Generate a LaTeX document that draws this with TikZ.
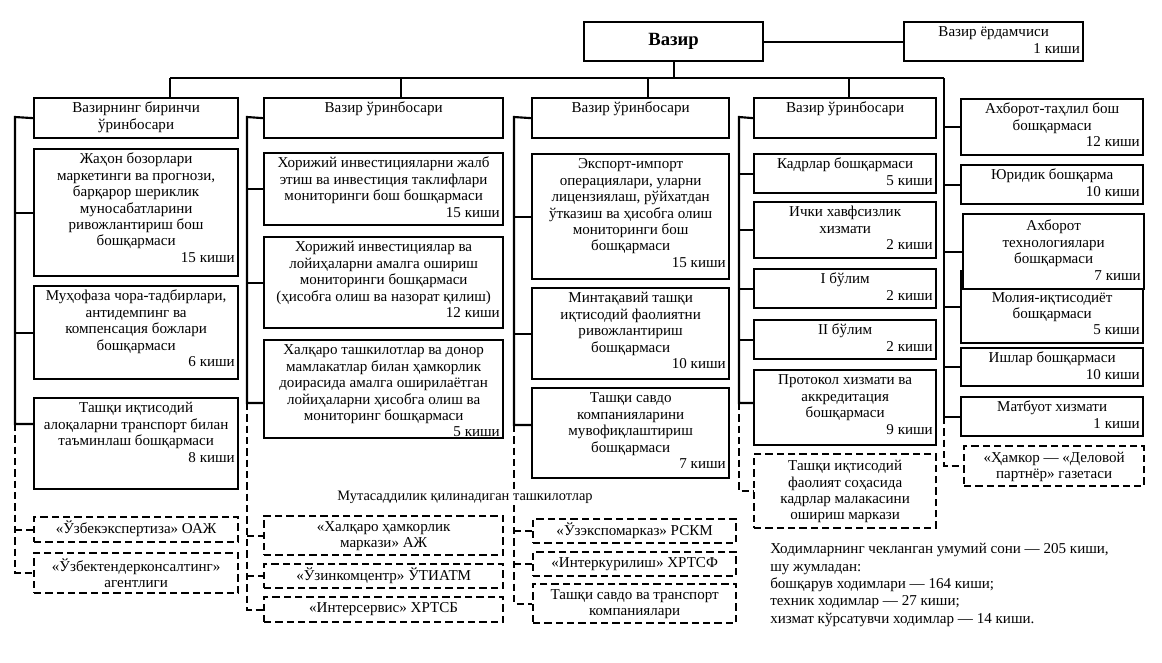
\documentclass[tikz,border=0pt]{standalone}
\usepackage{fontspec}
\setmainfont{Liberation Serif}
\usetikzlibrary{calc}
\newlength{\pxu}
\setlength{\pxu}{0.75pt}
\newcommand{\orgfont}{\fontsize{11.3}{12.3}\selectfont}
% box text: [inner position]{width px}{height px}{text}
\newcommand{\boxtext}[4][t]{\parbox[c][\dimexpr#3\pxu-5pt\relax][#1]{\dimexpr#2\pxu-5pt\relax}{\centering\strut#4}}
\newcommand{\staff}[1]{\\\hspace*{\fill}#1 киши\strut}

\begin{document}
\begin{tikzpicture}[x=0.75pt, y=-0.75pt,
    unit/.style={draw, line width=1.7pt, fill=white, anchor=north west, inner sep=2.5pt, font=\orgfont},
    dunit/.style={unit, dash pattern=on 5.5pt off 3pt},
    wire/.style={draw, line width=1.6pt},
    dwire/.style={draw, line width=1.6pt, dash pattern=on 5.5pt off 3pt}]
    \useasboundingbox (0,0) rectangle (1162,662);

    % Minister and assistant
    \node[unit, inner sep=0pt, minimum width={179*\pxu}, minimum height={39*\pxu}, font=\fontsize{14}{16}\selectfont\bfseries] (minister) at (583,21) {Вазир};
    \node[unit] (aide) at (903,21) {\boxtext{179}{39}{Вазир ёрдамчиси\staff{1}}};

    % Deputies
    \node[unit] (h1) at (33,97) {\boxtext{204}{40}{Вазирнинг биринчи\\ўринбосари}};
    \node[unit] (h2) at (263,97) {\boxtext{239}{40}{Вазир ўринбосари}};
    \node[unit] (h3) at (531,97) {\boxtext{197}{40}{Вазир ўринбосари}};
    \node[unit] (h4) at (753,97) {\boxtext{182}{40}{Вазир ўринбосари}};

    % Column 1
    \node[unit] (c11) at (33,148) {\boxtext{204}{127}{Жаҳон бозорлари\\маркетинги ва прогнози,\\барқарор шериклик\\муносабатларини\\ривожлантириш бош\\бошқармаси\staff{15}}};
    \node[unit] (c12) at (33,285) {\boxtext{204}{93}{Муҳофаза чора-тадбирлари,\\антидемпинг ва\\компенсация божлари\\бошқармаси\staff{6}}};
    \node[unit] (c13) at (33,397) {\boxtext{204}{91}{Ташқи иқтисодий\\алоқаларни транспорт билан\\таъминлаш бошқармаси\staff{8}}};
    \node[dunit] (d11) at (33,516) {\boxtext[c]{204}{25}{«Ўзбекэкспертиза» ОАЖ}};
    \node[dunit] (d12) at (33,552) {\boxtext[c]{204}{40}{«Ўзбектендерконсалтинг»\\агентлиги}};

    % Column 2
    \node[unit] (c21) at (263,152) {\boxtext{239}{72}{Хорижий инвестицияларни жалб\\этиш ва инвестиция таклифлари\\мониторинги бош бошқармаси\staff{15}}};
    \node[unit] (c22) at (263,236) {\boxtext{239}{91}{Хорижий инвестициялар ва\\лойиҳаларни амалга ошириш\\мониторинги бошқармаси\\(ҳисобга олиш ва назорат қилиш)\staff{12}}};
    \node[unit] (c23) at (263,339) {\boxtext{239}{98}{Халқаро ташкилотлар ва донор\\мамлакатлар билан ҳамкорлик\\доирасида амалга оширилаётган\\лойиҳаларни ҳисобга олиш ва\\мониторинг бошқармаси\staff{5}}};
    \node[dunit] (d21) at (263,515) {\boxtext[c]{239}{39}{«Халқаро ҳамкорлик\\маркази» АЖ}};
    \node[dunit] (d22) at (263,563) {\boxtext[c]{239}{24}{«Ўзинкомцентр» ЎТИАТМ}};
    \node[dunit] (d23) at (263,596) {\boxtext[c]{239}{25}{«Интерсервис» ХРТСБ}};

    % Column 3
    \node[unit] (c31) at (531,153) {\boxtext{197}{125}{Экспорт-импорт\\операциялари, уларни\\лицензиялаш, рўйхатдан\\ўтказиш ва ҳисобга олиш\\мониторинги бош\\бошқармаси\staff{15}}};
    \node[unit] (c32) at (531,287) {\boxtext{197}{91}{Минтақавий ташқи\\иқтисодий фаолиятни\\ривожлантириш\\бошқармаси\staff{10}}};
    \node[unit] (c33) at (531,387) {\boxtext{197}{90}{Ташқи савдо\\компанияларини\\мувофиқлаштириш\\бошқармаси\staff{7}}};
    \node[dunit] (d31) at (532,518) {\boxtext[c]{203}{24}{«Ўзэкспомарказ» РСКМ}};
    \node[dunit] (d32) at (532,551) {\boxtext[c]{203}{24}{«Интеркурилиш» ХРТСФ}};
    \node[dunit] (d33) at (532,583) {\boxtext[c]{203}{39}{Ташқи савдо ва транспорт\\компаниялари}};

    % Column 4
    \node[unit] (c41) at (753,153) {\boxtext{182}{39}{Кадрлар бошқармаси\staff{5}}};
    \node[unit] (c42) at (753,201) {\boxtext{182}{56}{Ички хавфсизлик\\хизмати\staff{2}}};
    \node[unit] (c43) at (753,268) {\boxtext{182}{39}{I бўлим\staff{2}}};
    \node[unit] (c44) at (753,319) {\boxtext{182}{39}{II бўлим\staff{2}}};
    \node[unit] (c45) at (753,369) {\boxtext{182}{75}{Протокол хизмати ва\\аккредитация\\бошқармаси\staff{9}}};
    \node[dunit] (d41) at (753,453) {\boxtext[c]{182}{74}{Ташқи иқтисодий\\фаолият соҳасида\\кадрлар малакасини\\ошириш маркази}};

    % Column 5
    \node[unit] (c51) at (960,98) {\boxtext{182}{56}{Ахборот-таҳлил бош\\бошқармаси\staff{12}}};
    \node[unit] (c52) at (960,164) {\boxtext{182}{39}{Юридик бошқарма\staff{10}}};
    \node[unit] (c54) at (960,270) {\boxtext[b]{182}{67}{Молия-иқтисодиёт\\бошқармаси\staff{5}}};
    \node[unit] (c53) at (962,213) {\boxtext{181}{75}{\rule{0pt}{10pt}Ахборот\\технологиялари\\бошқармаси\staff{7}}};
    \node[unit] (c55) at (960,347) {\boxtext{182}{38}{Ишлар бошқармаси\staff{10}}};
    \node[unit] (c56) at (960,396) {\boxtext{182}{39}{Матбуот хизмати\staff{1}}};
    \node[dunit] (d51) at (963,445) {\boxtext[c]{180}{40}{«Ҳамкор — «Деловой\\партнёр» газетаси}};

    % Bus lines
    \coordinate (busL) at (170,78);
    \coordinate (busR) at (944,78);
    \draw[wire] (minister) -- (aide);
    \draw[wire] (minister.south) -- (minister.south |- busL);
    \draw[wire] (busL) -- (busR);
    \foreach \h/\x in {h1/170, h2/401, h3/648, h4/849}
        \draw[wire] (\x,78) -- (\h.north -| \x,78);

    % Column trunks
    \coordinate (t1) at (15,117);
    \coordinate (t1e) at (15,424);
    \coordinate (t2) at (247,117);
    \coordinate (t2e) at (247,403);
    \coordinate (t3) at (514,117);
    \coordinate (t3e) at (514,425);
    \coordinate (t4) at (739,117);
    \coordinate (t4e) at (739,403);
    \coordinate (t5e) at (944,417);

    \draw[wire] (h1.west) -- (t1) -- (t1e) -- (t1e -| c13.west);
    \draw[wire] (h2.west) -- (t2) -- (t2e) -- (t2e -| c23.west);
    \draw[wire] (h3.west) -- (t3) -- (t3e) -- (t3e -| c33.west);
    \draw[wire] (h4.west) -- (t4) -- (t4e) -- (t4e -| c45.west);
    \draw[wire] (busR) -- (t5e) -- (t5e -| c56.west);

    \foreach \b in {c11,c12}
        \draw[wire] (t1 |- \b.west) -- (\b.west);
    \foreach \b in {c21,c22}
        \draw[wire] (t2 |- \b.west) -- (\b.west);
    \foreach \b in {c31,c32}
        \draw[wire] (t3 |- \b.west) -- (\b.west);
    \foreach \b in {c41,c42,c43,c44}
        \draw[wire] (t4 |- \b.west) -- (\b.west);
    \foreach \b in {c51,c52,c53,c54,c55}
        \draw[wire] (busR |- \b.west) -- (\b.west);

    % Dashed links to subordinate organisations
    \draw[dwire] (t1e) |- (d12.west);
    \draw[dwire] (t1 |- d11.west) -- (d11.west);
    \draw[dwire] (t2e) |- (d23.west);
    \foreach \b in {d21,d22}
        \draw[dwire] (t2 |- \b.west) -- (\b.west);
    \draw[dwire] (t3e) |- (d33.west);
    \foreach \b in {d31,d32}
        \draw[dwire] (t3 |- \b.west) -- (\b.west);
    \draw[dwire] (t4e) |- (d41.west);
    \draw[dwire] (t5e) |- (d51.west);

    % Notes
    \node[fill=white, inner sep=1pt, font=\fontsize{10.8}{12.3}\selectfont] (subtitle) at (465,497) {Мутасаддилик қилинадиган ташкилотлар};
    \node[anchor=north west, align=left, inner sep=0pt, font=\fontsize{11.3}{13.1}\selectfont] (total) at (770,543) {Ходимларнинг чекланган умумий сони — 205 киши,\\шу жумладан:\\бошқарув ходимлари — 164 киши;\\техник ходимлар — 27 киши;\\хизмат кўрсатувчи ходимлар — 14 киши.};
\end{tikzpicture}
\end{document}
